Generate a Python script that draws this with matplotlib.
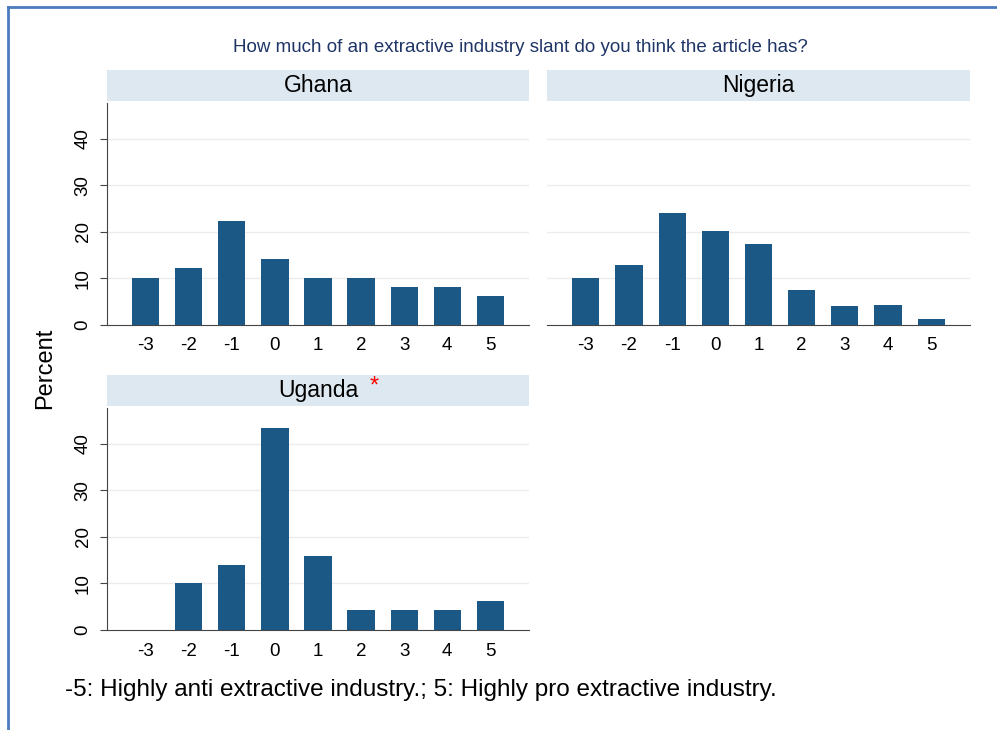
import matplotlib
matplotlib.use("Agg")
import matplotlib.pyplot as plt
from matplotlib.patches import Rectangle
from matplotlib.lines import Line2D

plt.rcParams['font.family'] = ['Liberation Sans', 'DejaVu Sans']

slant = [-3, -2, -1, 0, 1, 2, 3, 4, 5]
ghana = [10.2, 12.3, 22.3, 14.2, 10.2, 10.2, 8.2, 8.2, 6.3]
nigeria = [10.2, 12.9, 24.1, 20.2, 17.4, 7.6, 4.1, 4.4, 1.3]
uganda = [0.0, 10.0, 13.9, 43.4, 16.0, 4.2, 4.2, 4.2, 6.3]
yticks = [0, 10, 20, 30, 40]

W, H = 997, 730
bar_color = '#1b5886'
strip_color = '#dde8f0'
grid_color = '#ececec'

fig = plt.figure(figsize=(W / 100, H / 100), dpi=100)


def px_axes(x0, x1, ytop, ybot):
    return fig.add_axes([x0 / W, 1 - ybot / H, (x1 - x0) / W, (ybot - ytop) / H])


def panel(x0, x1, ytop, ybot, strip_top, strip_bot, values, name, show_y, star=False):
    ax = px_axes(x0, x1, ytop, ybot)
    ax.bar(slant, values, width=0.63, color=bar_color, zorder=3)
    ax.set_xlim(-3.9, 5.9)
    ax.set_ylim(0, 47.7)
    ax.set_xticks(slant)
    ax.set_xticklabels([str(s) for s in slant], fontsize=13.5)
    ax.tick_params(axis='x', length=0, pad=9)
    ax.set_yticks(yticks)
    for g in yticks[1:]:
        ax.axhline(g, color=grid_color, lw=1, zorder=1)
    for s in ['top', 'right']:
        ax.spines[s].set_visible(False)
    ax.spines['bottom'].set_color('#444444')
    ax.spines['left'].set_color('#444444')
    if show_y:
        ax.set_yticklabels([str(t) for t in yticks], fontsize=13.5, rotation=90, va='center')
        ax.tick_params(axis='y', length=5, pad=6, color='#444444')
    else:
        ax.spines['left'].set_visible(False)
        ax.set_yticklabels([])
        ax.tick_params(axis='y', length=0)
    # strip
    sax = px_axes(x0, x1, strip_top, strip_bot)
    sax.add_patch(Rectangle((0, 0), 1, 1, color=strip_color, transform=sax.transAxes))
    sax.axis('off')
    sax.text(0.5, 0.5, name, ha='center', va='center', fontsize=16.5)
    if star:
        sax.text(0.633, 0.62, '*', ha='center', va='center', fontsize=17, color='red')
    return ax


panel(107, 529, 103, 325, 70, 101, ghana, 'Ghana', True)
panel(547, 970, 103, 325, 70, 101, nigeria, 'Nigeria', False)
panel(107, 529, 408, 630, 375, 406, uganda, 'Uganda', True, star=True)

fig.text(520 / W, 1 - 47 / H, 'How much of an extractive industry slant do you think the article has?',
         ha='center', va='center', fontsize=13.5, color='#1e3566')
fig.text(45 / W, 1 - 368 / H, 'Percent', rotation=90, ha='center', va='center', fontsize=17)
fig.text(65 / W, 1 - 690 / H, '-5: Highly anti extractive industry.; 5: Highly pro extractive industry.',
         ha='left', va='center', fontsize=17.5)

# frame lines
fig.add_artist(Line2D([8 / W, 1], [1 - 7 / H, 1 - 7 / H], color='#4a7bbf', lw=2, transform=fig.transFigure))
fig.add_artist(Line2D([8 / W, 8 / W], [0, 1 - 7 / H], color='#4a7bbf', lw=2, transform=fig.transFigure))

fig.savefig('out.png', dpi=100)
